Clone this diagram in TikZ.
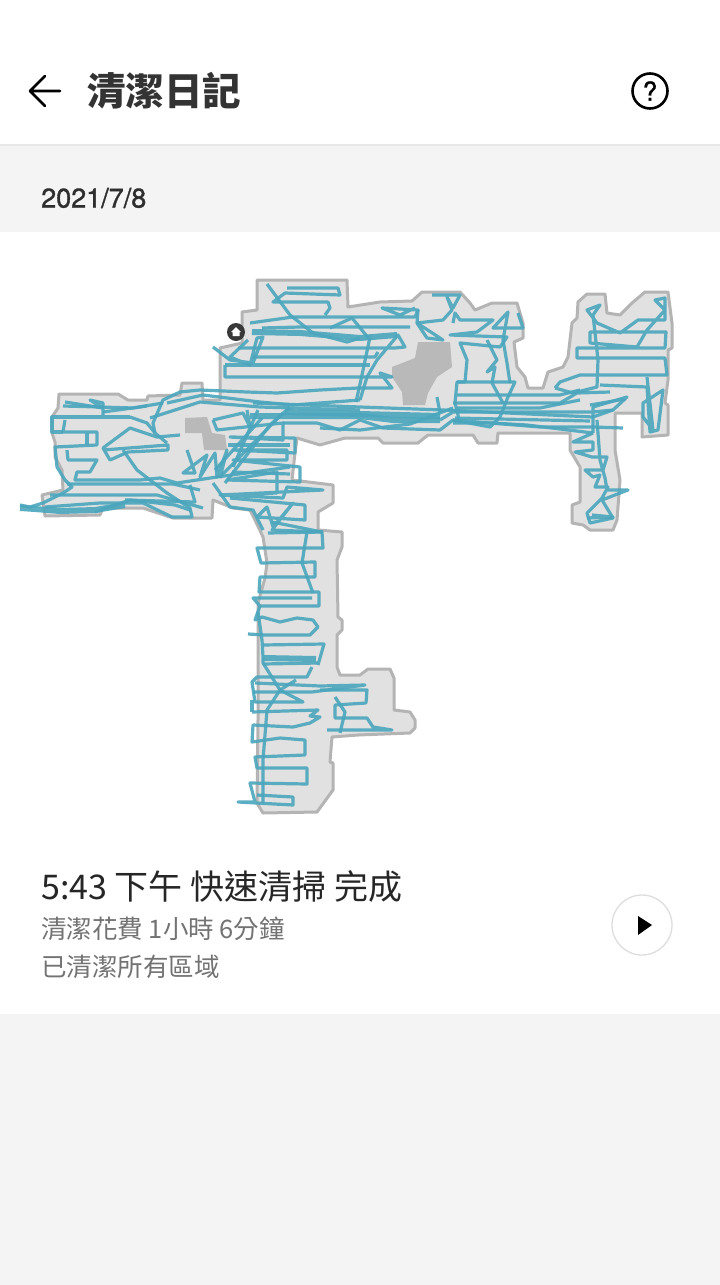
\documentclass[tikz,border=0pt]{standalone}
\usepackage{fontspec}
\usepackage{tikz}
\usetikzlibrary{positioning,calc}
\setmainfont{Noto Sans CJK TC}
\newfontfamily\cjk{Noto Sans CJK TC}
\newfontfamily\datefont[FakeBold=1.2]{TeX Gyre Heros}
\definecolor{pagegray}{HTML}{F4F4F4}
\definecolor{floorgray}{HTML}{E1E1E1}
\definecolor{wallgray}{HTML}{B4B4B4}
\definecolor{blockgray}{HTML}{B9B9B9}
\definecolor{tracktl}{HTML}{4BA6BD}
\tikzset{
  track/.style={draw=tracktl,line width=3.2pt,line join=round,opacity=.9},
  trackfat/.style={track,line width=6pt},
  title/.style={anchor=west,inner sep=0pt,text=black!80,font=\cjk\bfseries\fontsize{38.5}{38.5}\selectfont},
  datetext/.style={anchor=west,inner sep=0pt,text=black!82,font=\datefont\fontsize{27}{27}\selectfont},
  headline/.style={anchor=west,inner sep=0pt,text=black!85,font=\cjk\fontsize{34}{34}\selectfont},
  subline/.style={anchor=west,inner sep=0pt,text=black!55,font=\cjk\fontsize{25.5}{25.5}\selectfont},
}
\begin{document}
\begin{tikzpicture}[x=1pt,y=-1pt]
\useasboundingbox (0,0) rectangle (720,1285);
% page bands
\fill[white] (0,0) rectangle (720,1285);
\fill[pagegray] (0,144) rectangle (720,232);
\fill[black!9] (0,144) rectangle (720,146);
\fill[pagegray] (0,1014) rectangle (720,1285);
% header
\draw[line width=2.6pt,line cap=round,line join=round] (45,76) -- (30,91) -- (45,106) (30,91) -- (60,91);
\node[title] (logtitle) at (87,91) {清潔日記};
\node[circle,draw,line width=2.6pt,minimum size=35pt,inner sep=0pt,font=\datefont\fontsize{26}{26}\selectfont] (help) at (650,91) {?};
\node[datetext] (logdate) at (41,198) {2021/7/8};
% floor
\draw[fill=floorgray,draw=wallgray,line width=3pt,line join=round] (257,280) -- (347,280) -- (348,307) -- (380,302) -- (412,301) -- (422,292) -- (460,292) -- (470,303) -- (475,310) -- (492,303) -- (517,303) -- (523,323) -- (523,338) -- (514,342) -- (517,367) -- (525,377) -- (528,388) -- (543,388) -- (548,372) -- (563,367) -- (568,357) -- (572,323) -- (577,318) -- (578,302) -- (587,294) -- (605,294) -- (607,313) -- (620,315) -- (632,303) -- (645,292) -- (668,292) -- (672,323) -- (672,348) -- (668,350) -- (668,380) -- (665,403) -- (668,405) -- (668,435) -- (642,437) -- (642,413) -- (615,413) -- (615,450) -- (620,480) -- (617,520) -- (613,530) -- (590,530) -- (583,525) -- (572,523) -- (572,505) -- (580,502) -- (580,467) -- (570,450) -- (570,433) -- (498,433) -- (497,443) -- (478,443) -- (473,435) -- (428,435) -- (418,443) -- (383,443) -- (378,438) -- (345,438) -- (320,445) -- (297,438) -- (295,453) -- (292,480) -- (333,485) -- (333,503) -- (318,512) -- (318,530) -- (342,532) -- (342,547) -- (337,560) -- (338,617) -- (342,620) -- (342,630) -- (337,635) -- (337,667) -- (340,675) -- (360,675) -- (368,669) -- (390,669) -- (394,678) -- (394,710) -- (410,712) -- (415,720) -- (415,728) -- (410,733) -- (358,735) -- (332,737) -- (330,762) -- (333,763) -- (333,790) -- (317,812) -- (263,813) -- (257,803) -- (258,720) -- (258,603) -- (265,578) -- (267,563) -- (263,537) -- (255,520) -- (250,510) -- (233,508) -- (213,500) -- (212,518) -- (173,518) -- (143,508) -- (103,508) -- (100,515) -- (45,516) -- (42,495) -- (63,490) -- (62,470) -- (55,457) -- (55,442) -- (52,433) -- (52,417) -- (58,408) -- (59,394) -- (83,394) -- (100,394) -- (118,394) -- (128,400) -- (147,400) -- (148,396) -- (180,395) -- (182,383) -- (202,383) -- (203,400) -- (220,400) -- (220,348) -- (242,343) -- (242,312) -- (257,310) -- cycle;
\fill[blockgray] (185,418) -- (207,417) -- (212,433) -- (225,435) -- (227,450) -- (204,450) -- (202,433) -- (185,433) -- cycle;
\fill[blockgray] (418,342) -- (450,342) -- (452,367) -- (437,377) -- (428,393) -- (425,405) -- (403,405) -- (402,392) -- (392,377) -- (392,367) -- (415,358) -- cycle;
% upper room
\draw[track] (267,284) -- (290,315) -- (313,333) -- (347,342) -- (360,338);
\draw[track] (287,288) -- (338,288) -- (340,295) -- (285,293) -- (273,302) -- (328,302) -- (330,308) -- (325,315);
\draw[track] (250,323) -- (293,317) -- (353,317) -- (415,317) -- (418,310) -- (382,308) -- (400,315) -- (415,308);
\draw[trackfat] (252,332) -- (300,333) -- (360,338) -- (397,335);
\draw[track] (410,327) -- (300,327) -- (262,328);
\draw[track] (330,328) -- (352,318) -- (370,340);
\draw[track] (213,347) -- (230,360) -- (253,363) -- (263,337) -- (257,338) -- (250,365) -- (230,357) -- (248,340);
\draw[track] (238,348) -- (395,348) -- (405,347) -- (398,335) -- (377,360) -- (367,377) -- (360,400);
\draw[track] (252,357) -- (375,357) -- (378,352);
\draw[track] (225,365) -- (370,365);
\draw[track] (370,337) -- (362,375) -- (356,402);
\draw[track] (225,365) -- (225,377) -- (392,377) -- (380,373) -- (392,388) -- (358,388) -- (320,390) -- (277,393) -- (247,392) -- (200,390) -- (180,392) -- (163,400) -- (153,423) -- (155,433) -- (167,443);
\draw[track] (167,403) -- (203,395) -- (260,402) -- (293,405) -- (360,400);
\draw[track] (150,418) -- (200,402) -- (260,407) -- (360,410);
% main corridor
\draw[track] (253,403) -- (360,407) -- (443,410) -- (593,417) -- (613,410);
\draw[trackfat] (250,416) -- (360,416) -- (393,420) -- (440,420);
\draw[trackfat] (285,412) -- (360,414) -- (440,416);
\draw[track] (440,420) -- (453,412) -- (593,412) -- (613,410) -- (627,397) -- (593,407) -- (593,433);
\draw[track] (283,423) -- (317,423) -- (340,430) -- (360,420) -- (383,428) -- (440,430) -- (453,420) -- (540,427) -- (593,427) -- (623,428);
\draw[track] (320,428) -- (360,430) -- (410,424) -- (453,408);
\draw[track] (453,423) -- (493,423) -- (527,425) -- (593,433);
\draw[track] (453,403) -- (560,403) -- (577,393) -- (610,392);
\draw[track] (457,395) -- (560,395) -- (580,390);
\draw[track] (457,408) -- (540,408) -- (580,400);
\draw[track] (455,418) -- (590,421);
\draw[track] (590,405) -- (625,399);
% middle tangle
\draw[track] (417,323) -- (443,340) -- (427,338) -- (417,323) -- (418,310);
\draw[track] (432,295) -- (460,295) -- (453,308) -- (447,297) -- (452,310) -- (443,320) -- (417,323);
\draw[track] (453,323) -- (455,313) -- (460,320) -- (493,320) -- (477,332) -- (450,335) -- (507,337) -- (500,347) -- (460,343) -- (467,360) -- (465,382) -- (457,382) -- (455,403) -- (460,423);
\draw[track] (457,382) -- (515,382) -- (508,397) -- (500,417) -- (490,427) -- (453,420);
\draw[track] (518,313) -- (523,328) -- (493,328) -- (508,312) -- (503,340) -- (507,363) -- (510,383);
\draw[track] (487,340) -- (497,360) -- (487,372) -- (495,367) -- (492,383) -- (503,403);
\draw[track] (437,397) -- (440,413);
% right room
\draw[track] (555,388) -- (560,382) -- (580,375) -- (667,375) -- (665,358) -- (577,358) -- (577,348) -- (665,348) -- (666,332) -- (590,332) -- (590,343) -- (637,347) -- (647,330) -- (665,310) -- (655,300) -- (665,298) -- (665,320) -- (638,320) -- (620,333) -- (597,323) -- (587,310) -- (600,305) -- (593,315) -- (598,360) -- (597,387) -- (573,393) -- (555,388);
\draw[track] (647,377) -- (653,430) -- (643,417) -- (643,403) -- (663,390) -- (658,430) -- (650,432) -- (647,387) -- (600,385);
\draw[track] (597,420) -- (600,460) -- (605,478) -- (607,490) -- (628,490) -- (602,500) -- (613,518) -- (590,523) -- (587,513) -- (602,498) -- (608,487) -- (595,487) -- (600,475) -- (593,477) -- (585,470) -- (603,470) -- (607,457) -- (592,457) -- (575,452) -- (593,450) -- (593,442) -- (573,442) -- (593,433);
\draw[track] (587,518) -- (613,517) -- (592,515);
% left room
\draw[track] (65,402) -- (103,408) -- (90,400) -- (103,403) -- (103,415);
\draw[track] (63,406) -- (100,407) -- (133,408) -- (163,403);
\draw[track] (103,412) -- (147,406);
\draw[track] (130,417) -- (52,417) -- (52,432) -- (63,432);
\draw[track] (130,417) -- (147,423) -- (155,433);
\draw[track] (65,420) -- (63,432) -- (97,432) -- (97,445) -- (55,447) -- (57,467) -- (65,480) -- (72,487) -- (63,493) -- (43,503) -- (30,507) -- (20,505);
\draw[track] (87,433) -- (87,445);
\draw[track] (67,450) -- (68,460) -- (97,460) -- (90,472) -- (77,472) -- (75,480) -- (140,480) -- (160,478) -- (177,483) -- (217,477) -- (290,467);
\draw[track] (180,435) -- (157,437) -- (130,428) -- (103,448) -- (110,460) -- (128,452) -- (168,450) -- (168,445) -- (103,450);
\draw[track] (123,450) -- (137,470) -- (167,493) -- (190,508) -- (192,517) -- (172,517) -- (143,503) -- (100,503) -- (45,507);
\draw[trackfat] (20,508) -- (35,509) -- (60,511) -- (95,510) -- (125,505);
\draw[track] (50,495) -- (157,495) -- (203,508);
\draw[track] (67,484) -- (173,484) -- (200,490);
\draw[track] (125,500) -- (195,502) -- (190,485);
\draw[track] (95,512) -- (130,500) -- (175,505) -- (190,510);
% star over the kitchen
\draw[track] (187,450) -- (195,473) -- (183,473) -- (207,455) -- (200,477) -- (215,453) -- (217,477) -- (227,450) -- (220,478);
\draw[track] (220,477) -- (283,413);
\draw[track] (225,483) -- (270,425) -- (290,407);
\draw[track] (215,470) -- (262,418);
\draw[track] (233,467) -- (258,410);
\draw[track] (213,483) -- (230,507) -- (253,510) -- (263,530);
\draw[track] (213,420) -- (217,430) -- (283,423) -- (283,440) -- (230,437) -- (295,438) -- (295,453) -- (233,450) -- (287,450) -- (287,460) -- (233,460) -- (300,467) -- (300,482) -- (227,480) -- (277,472) -- (277,493) -- (220,495) -- (323,490) -- (287,487) -- (283,498) -- (220,495);
\draw[track] (230,498) -- (305,505) -- (305,520) -- (257,517) -- (267,507) -- (273,527) -- (293,503) -- (272,530) -- (323,532);
\draw[track] (247,410) -- (250,427) -- (243,413) -- (213,420);
\draw[track] (228,445) -- (290,445);
\draw[track] (232,472) -- (290,474);
% south corridor
\draw[track] (272,522) -- (322,532) -- (323,548) -- (257,548) -- (261,563) -- (315,562) -- (315,577) -- (260,577) -- (259,592) -- (319,592) -- (319,606) -- (260,606) -- (253,598) -- (312,598);
\draw[track] (268,533) -- (322,532);
\draw[track] (307,532) -- (302,563) -- (313,593);
\draw[track] (260,606) -- (255,620) -- (262,617) -- (280,622) -- (297,618) -- (313,620) -- (318,627) -- (310,635) -- (265,635) -- (248,634);
\draw[track] (258,612) -- (262,640) -- (263,657) -- (263,663) -- (280,690) -- (267,710) -- (263,760) -- (263,803);
\draw[track] (263,645) -- (324,644) -- (318,665);
\draw[trackfat] (263,658) -- (316,659);
\draw[track] (263,664) -- (318,663);
\draw[track] (312,667) -- (307,677) -- (257,677) -- (252,682) -- (255,702) -- (303,702) -- (280,690) -- (296,680);
\draw[track] (255,683) -- (320,686) -- (365,685) -- (312,692) -- (253,692);
\draw[track] (320,690) -- (367,690) -- (366,703) -- (335,705) -- (335,718) -- (367,718) -- (373,727) -- (392,730) -- (327,730);
\draw[track] (335,697) -- (345,712) -- (340,733);
\draw[track] (252,712) -- (252,700);
\draw[track] (252,712) -- (318,710) -- (310,716) -- (320,717) -- (310,723) -- (293,727) -- (253,725) -- (252,742) -- (280,738) -- (305,740) -- (305,755) -- (255,757) -- (257,768) -- (307,768) -- (307,784) -- (250,783) -- (255,802) -- (238,802) -- (293,805) -- (293,797) -- (257,795);
% dock and replay
\node[circle,fill=black!78,minimum size=18pt,inner sep=0pt] (dock) at (236,332) {};
\fill[white] (231,332) -- (236,327) -- (241,332) -- (239.5,332) -- (239.5,336) -- (232.5,336) -- (232.5,332) -- cycle;
\node[circle,draw=black!13,line width=1.3pt,minimum size=60pt,inner sep=0pt] (replay) at (642,925) {};
\fill[black] (638,916) -- (652,925) -- (638,935) -- cycle;
% summary
\node[headline] (summary) at (41,887) {5:43 下午 快速清掃 完成};
\node[subline] (spent) at (41,929) {清潔花費 1小時 6分鐘};
\node[subline] (areas) at (41,967) {已清潔所有區域};
\end{tikzpicture}
\end{document}
